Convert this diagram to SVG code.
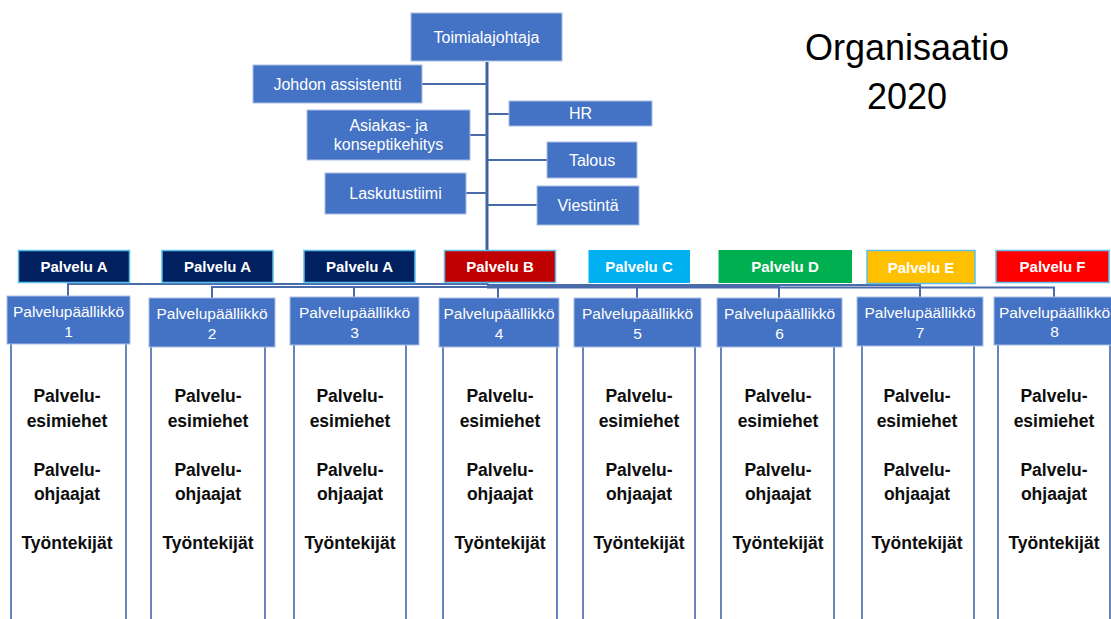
<svg xmlns="http://www.w3.org/2000/svg" width="1111" height="619" viewBox="0 0 1111 619">
<style>
.box{fill:#4472C4;stroke:#A9BFE6;stroke-width:1}
.t{font-family:"Liberation Sans",Arial,sans-serif;fill:#ffffff;text-anchor:middle}
.top{font-size:16px}
.pv{font-size:15px;font-weight:bold}
.pvb{stroke:#5BC0EB;stroke-width:1.5}
.mg{font-size:15.5px}
.col{fill:#ffffff;stroke:#4467A8;stroke-width:1.6}
.ct{font-family:"Liberation Sans",Arial,sans-serif;font-size:17.5px;font-weight:bold;fill:#0D0D0D;text-anchor:middle}
.cn{fill:none;stroke:#4A6BAA;stroke-width:2}
.title{font-family:"Liberation Sans",Arial,sans-serif;font-size:36px;fill:#000000;text-anchor:middle}
</style>
<rect width="1111" height="619" fill="#ffffff"/>

<g id="connectors">
  <line class="cn" x1="487" y1="62" x2="487" y2="285" style="stroke-width:3;stroke:#41619E"/>
  <line class="cn" x1="422" y1="84" x2="487" y2="84"/>
  <line class="cn" x1="487" y1="114" x2="509" y2="114"/>
  <line class="cn" x1="470" y1="135" x2="487" y2="135"/>
  <line class="cn" x1="487" y1="160" x2="547" y2="160"/>
  <line class="cn" x1="466" y1="193" x2="487" y2="193"/>
  <line class="cn" x1="487" y1="205" x2="537" y2="205"/>
  <path class="cn" d="M487,284 H68 V296"/>
  <path class="cn" d="M487,287 H212 V298"/>
  <path class="cn" d="M487,287 H354 V297"/>
  <path class="cn" d="M487,286.5 H498 V298"/>
  <path class="cn" d="M487,286 H637 V298"/>
  <path class="cn" d="M487,286 H779 V298"/>
  <path class="cn" d="M487,285 H920 V297"/>
  <path class="cn" d="M487,287.5 H1054 V297"/>
</g>

<g id="toimialajohtaja">
  <rect class="box" x="411" y="13" width="151" height="48"/>
  <text class="t top" x="486.5" y="43">Toimialajohtaja</text>
</g>
<g id="johdon-assistentti">
  <rect class="box" x="253" y="65" width="169" height="38"/>
  <text class="t top" x="337.5" y="90">Johdon assistentti</text>
</g>
<g id="hr">
  <rect class="box" x="509" y="101" width="143" height="25"/>
  <text class="t top" x="580.5" y="119">HR</text>
</g>
<g id="asiakas">
  <rect class="box" x="307" y="110" width="163" height="50"/>
  <text class="t top" x="388.5" y="131">Asiakas- ja</text>
  <text class="t top" x="388.5" y="149.5">konseptikehitys</text>
</g>
<g id="talous">
  <rect class="box" x="547" y="142" width="90" height="36"/>
  <text class="t top" x="592" y="166">Talous</text>
</g>
<g id="laskutustiimi">
  <rect class="box" x="325" y="173" width="141" height="41"/>
  <text class="t top" x="395.5" y="199">Laskutustiimi</text>
</g>
<g id="viestinta">
  <rect class="box" x="537" y="186" width="102" height="39"/>
  <text class="t top" x="588" y="211">Viestintä</text>
</g>

<g id="title">
  <text class="title" x="907" y="60">Organisaatio</text>
  <text class="title" x="907" y="109">2020</text>
</g>

<g id="palvelu-a1">
  <rect class="pvb" x="18.5" y="250.5" width="111" height="32" fill="#002060"/>
  <text class="t pv" x="74" y="272">Palvelu A</text>
</g>
<g id="palvelu-a2">
  <rect class="pvb" x="162" y="250.5" width="111" height="32" fill="#002060"/>
  <text class="t pv" x="217.5" y="272">Palvelu A</text>
</g>
<g id="palvelu-a3">
  <rect class="pvb" x="304" y="250.5" width="111" height="32" fill="#002060"/>
  <text class="t pv" x="359.5" y="272">Palvelu A</text>
</g>
<g id="palvelu-b">
  <rect class="pvb" x="444.5" y="250.5" width="111" height="32" fill="#C00000"/>
  <text class="t pv" x="500" y="272">Palvelu B</text>
</g>
<g id="palvelu-c">
  <rect x="588.5" y="250" width="101.5" height="33" fill="#00B0F0"/>
  <text class="t pv" x="639" y="272">Palvelu C</text>
</g>
<g id="palvelu-d">
  <rect x="718.5" y="250" width="133.5" height="33" fill="#00B050"/>
  <text class="t pv" x="785" y="272">Palvelu D</text>
</g>
<g id="palvelu-e">
  <rect class="pvb" x="867" y="250.5" width="108" height="33" fill="#FFC000"/>
  <text class="t pv" x="921" y="272.5">Palvelu E</text>
</g>
<g id="palvelu-f">
  <rect class="pvb" x="996" y="250.5" width="113" height="32" fill="#FF0000"/>
  <text class="t pv" x="1052.5" y="272">Palvelu F</text>
</g>

<g id="manager-1">
  <rect class="col" x="11" y="330" width="115" height="310"/>
  <rect class="box" x="7" y="296" width="123" height="48"/>
  <text class="t mg" x="68.5" y="317">Palvelupäällikkö</text>
  <text class="t mg" x="68.5" y="336.5">1</text>
  <text class="ct" x="67" y="402">Palvelu-</text>
  <text class="ct" x="67" y="427">esimiehet</text>
  <text class="ct" x="67" y="476">Palvelu-</text>
  <text class="ct" x="67" y="500">ohjaajat</text>
  <text class="ct" x="67" y="549">Työntekijät</text>
</g>
<g id="manager-2">
  <rect class="col" x="151" y="330" width="114" height="310"/>
  <rect class="box" x="149" y="298" width="126" height="49"/>
  <text class="t mg" x="212" y="319">Palvelupäällikkö</text>
  <text class="t mg" x="212" y="338.5">2</text>
  <text class="ct" x="208" y="402">Palvelu-</text>
  <text class="ct" x="208" y="427">esimiehet</text>
  <text class="ct" x="208" y="476">Palvelu-</text>
  <text class="ct" x="208" y="500">ohjaajat</text>
  <text class="ct" x="208" y="549">Työntekijät</text>
</g>
<g id="manager-3">
  <rect class="col" x="294" y="330" width="112" height="310"/>
  <rect class="box" x="290" y="297" width="129" height="48"/>
  <text class="t mg" x="354.5" y="318">Palvelupäällikkö</text>
  <text class="t mg" x="354.5" y="337.5">3</text>
  <text class="ct" x="350" y="402">Palvelu-</text>
  <text class="ct" x="350" y="427">esimiehet</text>
  <text class="ct" x="350" y="476">Palvelu-</text>
  <text class="ct" x="350" y="500">ohjaajat</text>
  <text class="ct" x="350" y="549">Työntekijät</text>
</g>
<g id="manager-4">
  <rect class="col" x="443" y="330" width="114" height="310"/>
  <rect class="box" x="439" y="298" width="120" height="49"/>
  <text class="t mg" x="499" y="319">Palvelupäällikkö</text>
  <text class="t mg" x="499" y="338.5">4</text>
  <text class="ct" x="500" y="402">Palvelu-</text>
  <text class="ct" x="500" y="427">esimiehet</text>
  <text class="ct" x="500" y="476">Palvelu-</text>
  <text class="ct" x="500" y="500">ohjaajat</text>
  <text class="ct" x="500" y="549">Työntekijät</text>
</g>
<g id="manager-5">
  <rect class="col" x="583" y="330" width="112" height="310"/>
  <rect class="box" x="574" y="298" width="127" height="49"/>
  <text class="t mg" x="637.5" y="319">Palvelupäällikkö</text>
  <text class="t mg" x="637.5" y="338.5">5</text>
  <text class="ct" x="639" y="402">Palvelu-</text>
  <text class="ct" x="639" y="427">esimiehet</text>
  <text class="ct" x="639" y="476">Palvelu-</text>
  <text class="ct" x="639" y="500">ohjaajat</text>
  <text class="ct" x="639" y="549">Työntekijät</text>
</g>
<g id="manager-6">
  <rect class="col" x="721" y="330" width="113" height="310"/>
  <rect class="box" x="717" y="298" width="125" height="49"/>
  <text class="t mg" x="779.5" y="319">Palvelupäällikkö</text>
  <text class="t mg" x="779.5" y="338.5">6</text>
  <text class="ct" x="778" y="402">Palvelu-</text>
  <text class="ct" x="778" y="427">esimiehet</text>
  <text class="ct" x="778" y="476">Palvelu-</text>
  <text class="ct" x="778" y="500">ohjaajat</text>
  <text class="ct" x="778" y="549">Työntekijät</text>
</g>
<g id="manager-7">
  <rect class="col" x="862" y="330" width="112" height="310"/>
  <rect class="box" x="857" y="297" width="126" height="49"/>
  <text class="t mg" x="920" y="318">Palvelupäällikkö</text>
  <text class="t mg" x="920" y="337.5">7</text>
  <text class="ct" x="917" y="402">Palvelu-</text>
  <text class="ct" x="917" y="427">esimiehet</text>
  <text class="ct" x="917" y="476">Palvelu-</text>
  <text class="ct" x="917" y="500">ohjaajat</text>
  <text class="ct" x="917" y="549">Työntekijät</text>
</g>
<g id="manager-8">
  <rect class="col" x="998" y="330" width="112" height="310" style="stroke:#4467A8"/>
  <rect class="box" x="994" y="297" width="125" height="48"/>
  <text class="t mg" x="1054.5" y="318">Palvelupäällikkö</text>
  <text class="t mg" x="1054.5" y="337">8</text>
  <text class="ct" x="1054" y="402">Palvelu-</text>
  <text class="ct" x="1054" y="427">esimiehet</text>
  <text class="ct" x="1054" y="476">Palvelu-</text>
  <text class="ct" x="1054" y="500">ohjaajat</text>
  <text class="ct" x="1054" y="549">Työntekijät</text>
</g>
</svg>
